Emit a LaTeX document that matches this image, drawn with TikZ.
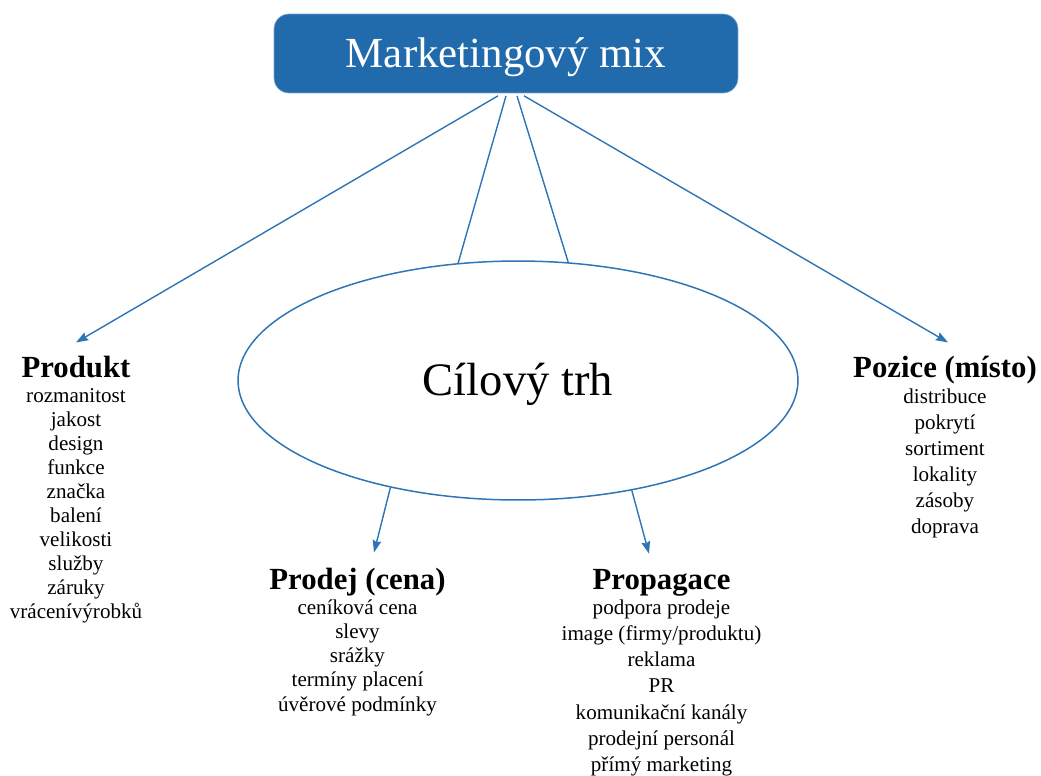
\documentclass[tikz,border=0pt]{standalone}
\usepackage{fontspec}
\setmainfont{Liberation Serif}
\usetikzlibrary{calc,shapes.geometric,arrows.meta}

\definecolor{mixblue}{RGB}{33,106,171}
\definecolor{mixedge}{RGB}{120,165,210}
\definecolor{linkblue}{RGB}{46,117,182}

\tikzset{
  mixbox/.style={rectangle, rounded corners=0.3cm, fill=mixblue, draw=mixedge, line width=0.4pt,
    minimum width=9.28cm, minimum height=1.58cm, text=white,
    font=\fontsize{24.4}{28}\selectfont, text height=16.2pt, text depth=0pt},
  trhellipse/.style={ellipse, draw=linkblue, line width=0.85pt, inner sep=0pt,
    minimum width=11.2cm, minimum height=4.78cm,
    font=\fontsize{26.5}{31}\selectfont, text height=17.5pt, text depth=0pt},
  nadpis/.style={anchor=base, font=\bfseries\fontsize{17.5}{20}\selectfont},
  polozka/.style={anchor=base, inner sep=0pt, font=\rmfamily\fontsize{12}{14}\selectfont},
  spoj/.style={draw=linkblue, line width=0.8pt},
  sipka/.style={spoj, -{Stealth[length=7pt,width=5pt,inset=1pt]}}
}

\begin{document}
\begin{tikzpicture}[x=0.02cm, y=-0.02cm]
  \useasboundingbox (0,0) rectangle (1041,775);

  % hlavni uzly
  \node[mixbox] (mix) at (506,53.5) {Marketingový mix};
  \node[trhellipse] (trh) at (518,380.5) {Cílový trh};

  % nadpisy
  \node[nadpis] (produkt) at (76,377) {Produkt};
  \node[nadpis] (prodej) at (357.5,589) {Prodej (cena)};
  \node[nadpis] (propagace) at (661.5,589) {Propagace};
  \node[nadpis] (pozice) at (945,377) {Pozice (místo)};

  % polozky
  \foreach \polozka [count=\i] in {rozmanitost, jakost, design, funkce, značka, balení, velikosti, služby, záruky, vrácenívýrobků}
  {
  \node[polozka] (produkt-\i) at (76,{379+23.9*\i}) {\polozka};
  }
  \foreach \polozka [count=\i] in {ceníková cena, slevy, srážky, termíny placení, úvěrové podmínky}
  {
  \node[polozka] (prodej-\i) at (357.5,{590+24.2*\i}) {\polozka};
  }
  \foreach \polozka [count=\i] in {podpora prodeje, image (firmy/produktu), reklama, PR, komunikační kanály, prodejní personál, přímý marketing}
  {
  \node[polozka] (propagace-\i) at (661.5,{588+26.2*\i}) {\polozka};
  }
  \foreach \polozka [count=\i] in {distribuce, pokrytí, sortiment, lokality, zásoby, doprava}
  {
  \node[polozka] (pozice-\i) at (945,{377+26*\i}) {\polozka};
  }

  % spoje
  \draw[sipka] ($(mix.south)+(-8,2.5)$) -- ($(produkt.north)+(0,-7)$);
  \draw[spoj] ($(mix.south)+(0,2.5)$) -- (trh.117.2);
  \draw[spoj] ($(mix.south)+(11,2.5)$) -- (trh.67.8);
  \draw[sipka] ($(mix.south)+(18,2.5)$) -- ($(pozice.north)+(3,-7)$);
  \draw[sipka] (trh.220.5) -- ($(prodej.north)+(16.5,-9)$);
  \draw[sipka] (trh.316) -- ($(propagace.north)+(-12.5,-9)$);

\end{tikzpicture}
\end{document}
